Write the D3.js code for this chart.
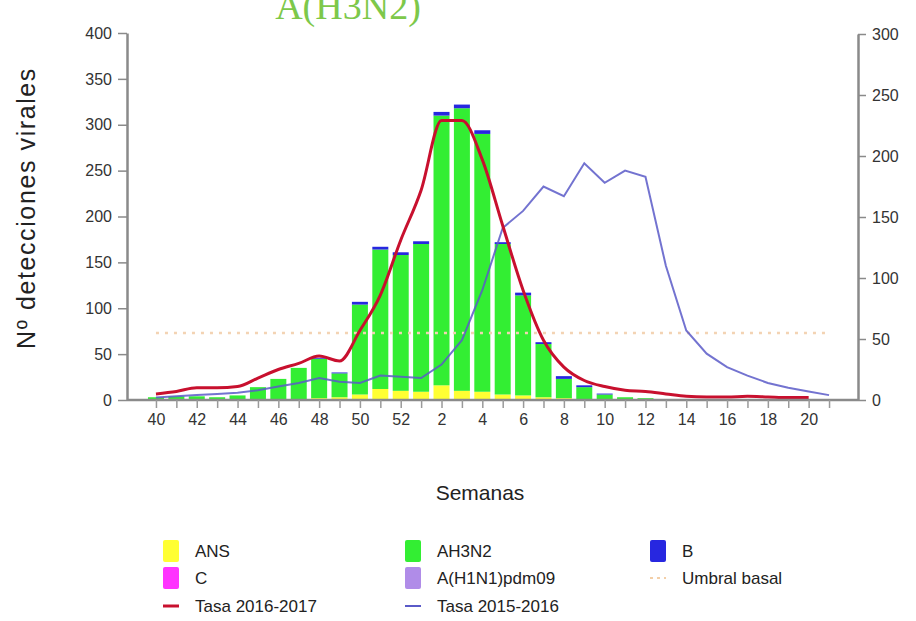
<!DOCTYPE html>
<html><head><meta charset="utf-8">
<script src="https://cdn.jsdelivr.net/npm/d3@7"></script>
<style>body{margin:0;background:#fff}svg{display:block}text{font-family:"Liberation Sans",Arial,sans-serif}</style>
</head><body><svg id="c" width="916" height="621"></svg>
<script>
const weeks = ["40","41","42","43","44","45","46","47","48","49","50","51","52","1","2","3","4","5","6","7","8","9","10","11","12","13","14","15","16","17","18","19","20","21"];
const tickLabels = ["40","42","44","46","48","50","52","2","4","6","8","10","12","14","16","18","20"];
const ans   = [0,0,0,0,0,0,0,0,2,3,6,12,10,9,16,10,9,6,5,3,2,0,0,0,0,0,0,0,0,0,0,0,0,0];
const cVir  = [0,0,0,0,0,0,0,0,0,0,0,0,0,0,0,0,0,0,0,0,0,0,0,0,0,0,0,0,0,0,0,0,0,0];
const ah3n2 = [3,4,4,3,5,14,23,35,43,26,98,152,148,161,294,308,281,164,109,58,21,14,6,3,2,1,1,1,0,1,0,0,0,0];
const h1n1  = [0,0,0,0,0,0,0,0,0,0,0,0,0,0,0,0,0,0,0,0,0,0,0,0,0,0,0,0,0,0,0,0,0,0];
const bVir  = [0,0,0,0,0,0,0,0,1,1,3,3,3,3,4,4,4,2,3,2,3,2,1,0,0,0,0,0,0,0,0,0,0,0];
const tasa1617 = [5,7,10,10,11,18,25,30,36,32,57,86,131,172,229,229,197,143,90,49,27,16,11,8,7,5,3,2.5,2.5,3,2.5,2,2,null];
const tasa1516 = [2,3,4,5,6,8,11,14,18,15,14,20,19,18,29,49,90,141,155,175,167,194,178,188,183,110,57,38,27,20,14,10,7,4];
const umbral = 55;

const seriesNames = ["ANS","C","AH3N2","A(H1N1)pdm09","B"];
const seriesColors = ["#ffff33","#ff33ff","#33ee33","#b08ce8","#2727e0"];
const seriesData = [ans,cVir,ah3n2,h1n1,bVir];

const svg = d3.select("#c");
const L = 127, R = 858, T = 33, B = 400;

const x = d3.scalePoint().domain(weeks).range([L, R]).padding(1.42);
const yL = d3.scaleLinear().domain([0,400]).range([B, T]);
const yR = d3.scaleLinear().domain([0,300]).range([B, 34]);

// title (cut off at top, as in the reference)
svg.append("text").attr("x",348).attr("y",19).attr("text-anchor","middle")
  .style("font-family","'Liberation Serif',serif").style("font-size","38px")
  .attr("fill","#7dc84a").text("A(H3N2)");

// stacked bars
const table = weeks.map((w,i)=>{const o={week:w}; seriesNames.forEach((s,j)=>o[s]=seriesData[j][i]); return o;});
const stack = d3.stack().keys(seriesNames)(table);
const bw = 16;
svg.append("g").selectAll("g").data(stack).join("g").attr("fill",(d,i)=>seriesColors[i])
  .selectAll("rect").data(d=>d).join("rect")
  .attr("x",d=>x(d.data.week)-bw/2).attr("width",bw)
  .attr("y",d=>yL(d[1])).attr("height",d=>Math.max(0,yL(d[0])-yL(d[1])));

// threshold
svg.append("line").attr("x1",x("40")).attr("x2",x("21")).attr("y1",yR(umbral)).attr("y2",yR(umbral))
  .attr("stroke","#f3d3b3").attr("stroke-width",2.5).attr("stroke-dasharray","3,6");

// lines
const lineBlue = d3.line().defined(d=>d!=null).x((d,i)=>x(weeks[i])).y(d=>yR(d)).curve(d3.curveLinear);
svg.append("path").datum(tasa1516).attr("d",lineBlue).attr("fill","none")
  .attr("stroke","#5a5ac8").attr("stroke-opacity",0.85).attr("stroke-width",2);
const lineRed = d3.line().defined(d=>d!=null).x((d,i)=>x(weeks[i])).y(d=>yR(d)).curve(d3.curveMonotoneX);
svg.append("path").datum(tasa1617).attr("d",lineRed).attr("fill","none")
  .attr("stroke","#c8102e").attr("stroke-width",3);

// axes
const axisColor = "#8a8a8a";
function styleAxis(g){ g.selectAll(".domain").attr("stroke",axisColor).attr("stroke-width",2.5);
  g.selectAll(".tick line").attr("stroke",axisColor).attr("stroke-width",1.5);
  g.selectAll(".tick text").attr("fill","#333").style("font-size","16px"); }
const gl = svg.append("g").attr("transform",`translate(${L},0)`)
  .call(d3.axisLeft(yL).tickValues(d3.range(0,401,50)).tickSize(9).tickSizeOuter(0).tickPadding(6));
styleAxis(gl);
const gr = svg.append("g").attr("transform",`translate(${R},0)`)
  .call(d3.axisRight(yR).tickValues(d3.range(0,301,50)).tickSize(8).tickSizeOuter(0).tickPadding(6));
styleAxis(gr);
const gx = svg.append("g").attr("transform",`translate(0,${B})`)
  .call(d3.axisBottom(x).tickSize(8).tickSizeOuter(0).tickPadding(6).tickFormat(d=>tickLabels.includes(d)&&d!=="21"?d:""));
gx.select(".domain").attr("d",`M${L},0H${R}`);
styleAxis(gx);
gx.selectAll(".tick line").attr("stroke","#9a9a9a");

// axis titles
svg.append("text").attr("x",480).attr("y",500).attr("text-anchor","middle").style("font-size","21px").attr("fill","#222").text("Semanas");
svg.append("text").attr("transform","translate(35,208) rotate(-90)").attr("text-anchor","middle")
  .style("font-size","25px").style("letter-spacing","1.6px").attr("fill","#222").text("Nº detecciones virales");

// legend
const legend = [
  {t:"ANS",type:"rect",c:seriesColors[0],x:163,y:551},
  {t:"C",type:"rect",c:seriesColors[1],x:163,y:578},
  {t:"Tasa 2016-2017",type:"line",c:"#c8102e",w:3,x:163,y:606},
  {t:"AH3N2",type:"rect",c:seriesColors[2],x:405,y:551},
  {t:"A(H1N1)pdm09",type:"rect",c:seriesColors[3],x:405,y:578},
  {t:"Tasa 2015-2016",type:"line",c:"#5a5ac8",w:2,x:405,y:606},
  {t:"B",type:"rect",c:seriesColors[4],x:650,y:551},
  {t:"Umbral basal",type:"dash",c:"#f3cfa8",w:2,x:650,y:578}
];
const lg = svg.append("g");
legend.forEach(d=>{
  if(d.type==="rect") lg.append("rect").attr("x",d.x).attr("y",d.y-11).attr("width",16).attr("height",22).attr("rx",2).attr("fill",d.c);
  else if(d.type==="line") lg.append("line").attr("x1",d.x).attr("x2",d.x+16).attr("y1",d.y).attr("y2",d.y).attr("stroke",d.c).attr("stroke-width",d.w);
  else lg.append("line").attr("x1",d.x).attr("x2",d.x+16).attr("y1",d.y).attr("y2",d.y).attr("stroke",d.c).attr("stroke-width",d.w).attr("stroke-dasharray","3,4");
  lg.append("text").attr("x",d.x+32).attr("y",d.y+6).style("font-size","17px").attr("fill","#222").text(d.t);
});
</script></body></html>
